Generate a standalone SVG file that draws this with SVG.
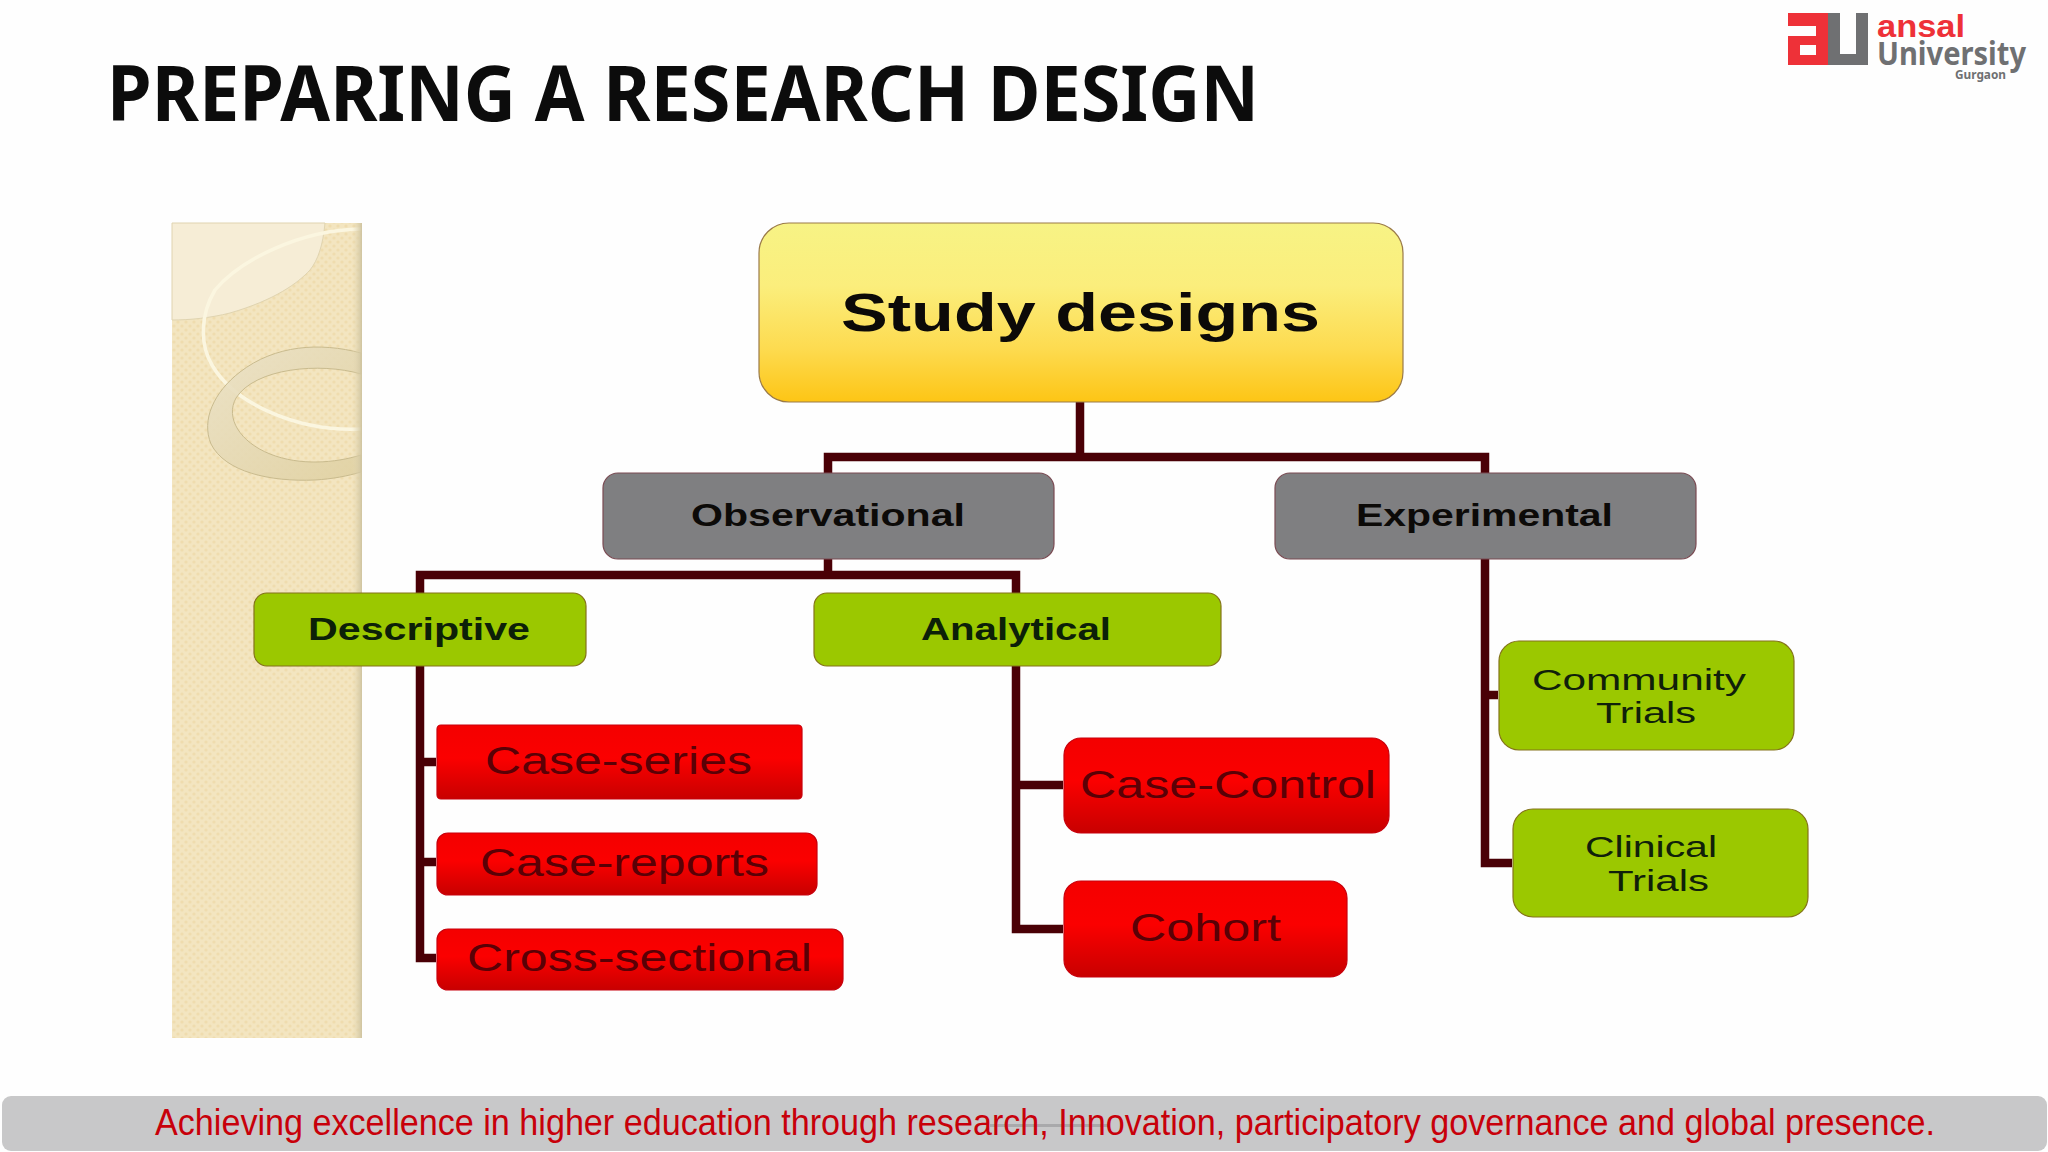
<svg xmlns="http://www.w3.org/2000/svg" width="2048" height="1152" viewBox="0 0 2048 1152">
<style>
text{font-family:"Liberation Sans",Arial,sans-serif;text-anchor:start}
.k{fill:#0c0a08;font-weight:bold}
.r{fill:#5a0006;font-size:38px}
.g{fill:#10200a;font-size:30px}
.gb{fill:#9bc800;stroke:#84731a;stroke-width:1.2}
.rb{fill:url(#red);stroke:#c8000c;stroke-width:1.2}
.gy{fill:#7f7f81;stroke:#7a4a52;stroke-width:1.2}
.conn{fill:none;stroke:#4a0006;stroke-width:8.500;stroke-linejoin:miter}
.swirl{fill:none}
</style>
<defs>
<linearGradient id="yellow" x1="0" y1="0" x2="0" y2="1"><stop offset="0" stop-color="#f7f385"/><stop offset=".35" stop-color="#fbee7c"/><stop offset=".7" stop-color="#fddb50"/><stop offset="1" stop-color="#fdc515"/></linearGradient>
<linearGradient id="red" x1="0" y1="0" x2="0" y2="1"><stop offset="0" stop-color="#f40000"/><stop offset=".45" stop-color="#fb0000"/><stop offset="1" stop-color="#c80000"/></linearGradient>
<pattern id="weave" width="8" height="8" patternUnits="userSpaceOnUse"><rect width="8" height="8" fill="#f3e5c0"/><circle cx="2" cy="2" r="1.6" fill="#efdcae"/><circle cx="6" cy="6" r="1.6" fill="#efdcae"/></pattern>
<linearGradient id="band" x1="0" y1="0" x2="1" y2="1"><stop offset="0" stop-color="#ebe2c8"/><stop offset="1" stop-color="#e0d1a2"/></linearGradient>
<linearGradient id="edge" x1="0" y1="0" x2="1" y2="0"><stop offset="0" stop-color="#e4d8b4" stop-opacity="0"/><stop offset="1" stop-color="#cfc4a0"/></linearGradient>
</defs>
<rect width="2048" height="1152" fill="#fefefe"/>

<g id="title"><text x="107" y="121" font-size="77" font-weight="bold" textLength="1152" lengthAdjust="spacingAndGlyphs" style="font-family:'Noto Sans','Open Sans',sans-serif" fill="#0c0c0c">PREPARING A RESEARCH DESIGN</text></g>

<g id="logo">
<path fill="#ee3138" fill-rule="evenodd" d="M1788 13H1828V65H1788V36H1816V26H1788ZM1800 45V55H1816V45Z"/>
<path fill="#6f7072" d="M1828 13H1840V54H1856V13H1868V65H1828Z"/>
<text x="1877" y="37" font-size="31" font-weight="bold" fill="#ee3138" textLength="88" lengthAdjust="spacingAndGlyphs">ansal</text>
<text x="1877" y="65" font-size="32" font-weight="bold" fill="#6f7072" textLength="149" lengthAdjust="spacingAndGlyphs" style="font-family:'Noto Sans',sans-serif">University</text>
<text x="1955" y="79" font-size="12.500" font-weight="bold" fill="#6f7072" textLength="51" lengthAdjust="spacingAndGlyphs" style="font-family:'Noto Sans',sans-serif">Gurgaon</text>
</g>

<g id="sidebar">
<rect x="172" y="223" width="190" height="815" fill="url(#weave)"/>
<path d="M172 223H325C323 245 318 260 310 270C298 283 275 300 230 313C210 318 190 320 172 320Z" fill="#f6edd6" stroke="#e0d4b0" stroke-width="1"/>
<path class="swirl" d="M361 229C300 230 240 260 215 290C200 315 200 345 212 365C235 405 300 432 361 429" stroke="#fbf6e0" stroke-width="3.500"/>
<path fill-rule="evenodd" d="M361 353C320 342 275 345 240 372C214 392 201 420 211 444C225 472 270 482 315 480C332 479 348 476 361 472V455C335 463 300 466 270 454C240 442 225 418 236 398C255 368 320 362 361 374Z" fill="url(#band)" fill-opacity=".9" stroke="#c9bb8e" stroke-width="1"/>
<rect x="352" y="223" width="10" height="815" fill="url(#edge)"/>
</g>

<g id="connectors" class="conn">
<path d="M1080 402V457M828 473V457H1485V473"/>
<path d="M828 559V575M420 593V575H1016V593"/>
<path d="M420 666V958H436M420 762H436M420 862H436"/>
<path d="M1016 666V929H1063M1016 785H1063"/>
<path d="M1485 559V863H1512M1485 695H1498"/>
</g>

<g id="study-designs"><rect x="759" y="223" width="644" height="179" rx="30" fill="url(#yellow)" stroke="#9a7a48" stroke-width="1.200"/><text class="k" x="841" y="331" font-size="53" textLength="479" lengthAdjust="spacingAndGlyphs">Study designs</text></g>
<g id="observational"><rect class="gy" x="603" y="473" width="451" height="86" rx="15"/><text class="k" x="691" y="526" font-size="31" textLength="274" lengthAdjust="spacingAndGlyphs">Observational</text></g>
<g id="experimental"><rect class="gy" x="1275" y="473" width="421" height="86" rx="15"/><text class="k" x="1356" y="526" font-size="31" textLength="257" lengthAdjust="spacingAndGlyphs">Experimental</text></g>
<g id="descriptive"><rect class="gb" x="254" y="593" width="332" height="73" rx="13"/><text class="k" x="308" y="640" font-size="31" textLength="222" lengthAdjust="spacingAndGlyphs" style="fill:#0c2008">Descriptive</text></g>
<g id="analytical"><rect class="gb" x="814" y="593" width="407" height="73" rx="13"/><text class="k" x="921" y="640" font-size="31" textLength="190" lengthAdjust="spacingAndGlyphs" style="fill:#0c2008">Analytical</text></g>
<g id="case-series"><rect class="rb" x="437" y="725" width="365" height="74" rx="4"/><text class="r" x="485" y="774" textLength="267" lengthAdjust="spacingAndGlyphs">Case-series</text></g>
<g id="case-reports"><rect class="rb" x="437" y="833" width="380" height="62" rx="11"/><text class="r" x="480" y="876" textLength="289" lengthAdjust="spacingAndGlyphs">Case-reports</text></g>
<g id="cross-sectional"><rect class="rb" x="437" y="929" width="406" height="61" rx="11"/><text class="r" x="467" y="971" textLength="345" lengthAdjust="spacingAndGlyphs">Cross-sectional</text></g>
<g id="case-control"><rect class="rb" x="1064" y="738" width="325" height="95" rx="17"/><text class="r" x="1080" y="798" textLength="296" lengthAdjust="spacingAndGlyphs">Case-Control</text></g>
<g id="cohort"><rect class="rb" x="1064" y="881" width="283" height="96" rx="17"/><text class="r" x="1130" y="941" textLength="151" lengthAdjust="spacingAndGlyphs">Cohort</text></g>
<g id="community-trials"><rect class="gb" x="1499" y="641" width="295" height="109" rx="20"/><text class="g" x="1532" y="690" textLength="214" lengthAdjust="spacingAndGlyphs">Community</text><text class="g" x="1596" y="723" textLength="100" lengthAdjust="spacingAndGlyphs">Trials</text></g>
<g id="clinical-trials"><rect class="gb" x="1513" y="809" width="295" height="108" rx="20"/><text class="g" x="1585" y="857" textLength="132" lengthAdjust="spacingAndGlyphs">Clinical</text><text class="g" x="1608" y="891" textLength="101" lengthAdjust="spacingAndGlyphs">Trials</text></g>

<g id="footer">
<rect x="2" y="1096" width="2045" height="55" rx="9" fill="#c8c8c9"/>
<rect x="990" y="1124" width="120" height="3" fill="#a9a9ab"/>
<text x="155" y="1135" font-size="36" fill="#c8000a" textLength="1780" lengthAdjust="spacingAndGlyphs">Achieving excellence in higher education through research, Innovation, participatory governance and global presence.</text>
</g>
</svg>
